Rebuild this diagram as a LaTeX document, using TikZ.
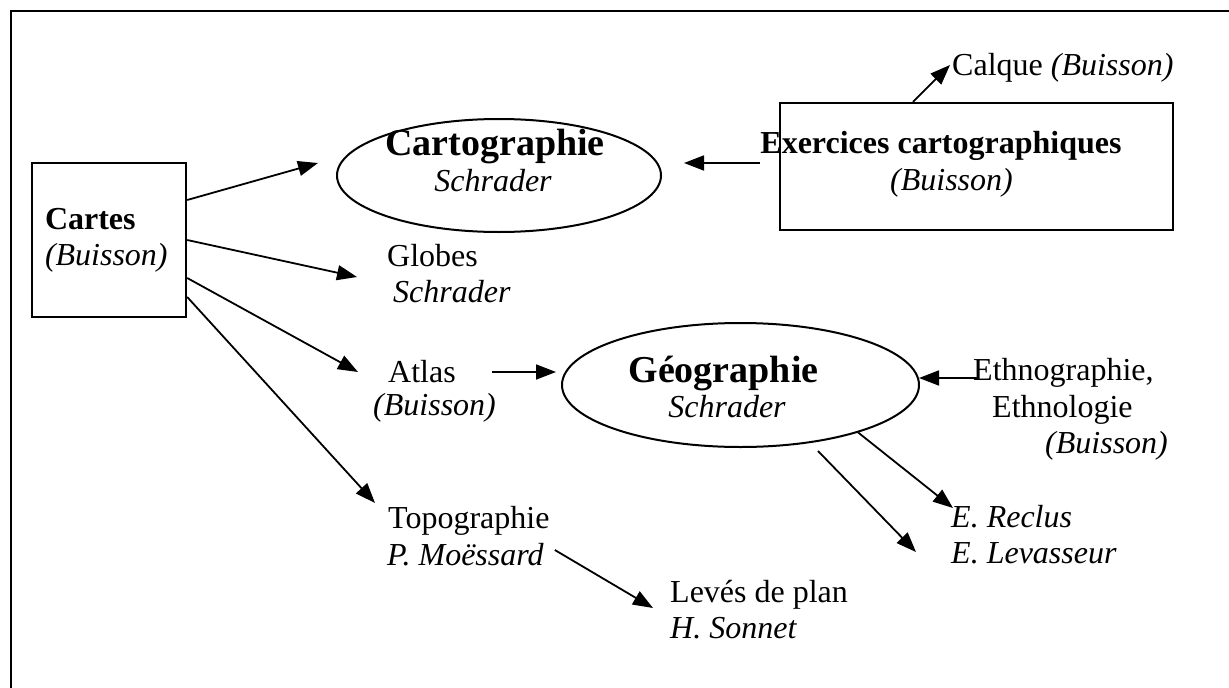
\documentclass[tikz,border=0pt]{standalone}
\usepackage{fontspec}
\setmainfont{Liberation Serif}
\usetikzlibrary{arrows.meta,calc,shapes.geometric}

\begin{document}
\fontsize{32}{36}\selectfont
\begin{tikzpicture}
  [x=1pt,y=-1pt]
      \tikzstyle{box_style} = [draw=black, line width=2.4pt, rectangle, inner sep=0pt]
      \tikzstyle{oval_style} = [draw=black, line width=2pt, ellipse, inner sep=0pt]
      \tikzstyle{txt_style} = [inner sep=0pt, anchor=base west]
      \tikzstyle{title_style} = [inner sep=0pt, anchor=base, font=\fontsize{38}{42}\selectfont\bfseries]
      \tikzstyle{edge_style} = [draw=black, line width=1.8pt, -{Triangle[length=20pt,width=15pt]}]
  \useasboundingbox (0,0) rectangle (1229,688);
  \clip (0,0) rectangle (1229,688);
  \draw[line width=2.6pt] (11,11) rectangle (1300,760);
  % boxes and ovals
  \node[box_style, minimum width=154pt, minimum height=154pt, align=left, text width=128pt] (cartes) at (109,240) {\textbf{Cartes}\\\textit{(Buisson)}};
  \node[box_style, minimum width=393pt, minimum height=127pt] (exo) at (976.5,166.5) {};
  \node[oval_style, minimum width=324pt, minimum height=113pt] (carto) at (499,175.5) {};
  \node[oval_style, minimum width=357pt, minimum height=124pt] (geo) at (740.5,385) {};
  % texts
  \node[title_style] (cartoT) at (495,155) {Cartographie};
  \node[txt_style, anchor=base, font=\itshape] (cartoA) at (493,191) {Schrader};
  \node[title_style] (geoT) at (723.5,382) {Géographie};
  \node[txt_style, anchor=base, font=\itshape] (geoA) at (727,417) {Schrader};
  \node[txt_style, anchor=base, font=\bfseries] (exoT) at (941,153) {Exercices cartographiques};
  \node[txt_style, anchor=base, font=\itshape] (exoA) at (951.5,190) {(Buisson)};
  \node[txt_style] (calque) at (952,75) {Calque \textit{(Buisson)}};
  \node[txt_style] (globes) at (387,266) {Globes};
  \node[txt_style, font=\itshape] (globesA) at (393,302) {Schrader};
  \node[txt_style] (atlas) at (388,382) {Atlas};
  \node[txt_style, font=\itshape] (atlasA) at (373,415) {(Buisson)};
  \node[txt_style] (topo) at (388,528) {Topographie};
  \node[txt_style, font=\itshape] (topoA) at (387,565) {P. Moëssard};
  \node[txt_style] (leves) at (670,602) {Levés de plan};
  \node[txt_style, font=\itshape] (levesA) at (670,638) {H. Sonnet};
  \node[txt_style] (ethno) at (973,380) {Ethnographie,};
  \node[txt_style] (ethnoB) at (992,417) {Ethnologie};
  \node[txt_style, font=\itshape] (ethnoA) at (1045,453) {(Buisson)};
  \node[txt_style, font=\itshape] (reclus) at (951,527) {E. Reclus};
  \node[txt_style, font=\itshape] (levass) at (951,563) {E. Levasseur};
  % arrows
  \draw[edge_style] ([yshift=40pt]cartes.east) -- ([xshift=-18pt,yshift=12.5pt]carto.west);
  \draw[edge_style] (cartes.east) -- ([xshift=-30pt,yshift=-11pt]globes.base west);
  \draw[edge_style] ([yshift=-38pt]cartes.east) -- ([xshift=-30pt,yshift=10pt]atlas.base west);
  \draw[edge_style] ([yshift=-57pt]cartes.east) -- ([xshift=-13pt,yshift=25pt]topo.base west);
  \draw[edge_style] ([xshift=36.5pt,yshift=10pt]atlas.base east) -- ([xshift=-5pt,yshift=13pt]geo.west);
  \draw[edge_style] ([xshift=-19pt,yshift=3.5pt]exo.west) -- ([xshift=22pt,yshift=12.5pt]carto.east);
  \draw[edge_style] ([xshift=-63.5pt]exo.north) -- ([xshift=-2pt,yshift=10pt]calque.base west);
  \draw[edge_style] ([xshift=4pt,yshift=2pt]ethno.base west) -- ([xshift=-1pt,yshift=7pt]geo.east);
  \draw[edge_style] (geo.-22) -- ([xshift=2pt,yshift=19pt]reclus.base west);
  \draw[edge_style] ([xshift=77.5pt,yshift=-3pt]geo.south) -- ([xshift=-35pt,yshift=11pt]levass.base west);
  \draw[edge_style] ([xshift=11pt,yshift=15pt]topoA.base east) -- ([xshift=-17pt,yshift=-6pt]leves.base west);
\end{tikzpicture}
\end{document}
